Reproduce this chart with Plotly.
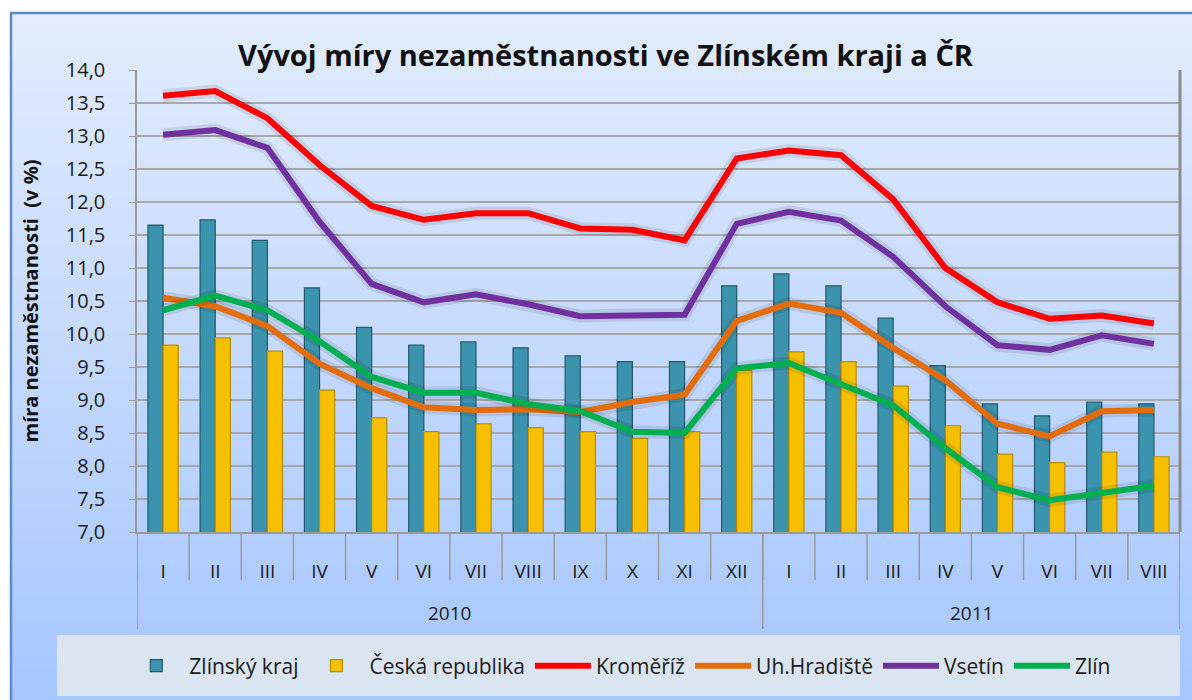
import plotly.graph_objects as go

years = ["2010", "2011"]
months = ["I", "II", "III", "IV", "V", "VI", "VII", "VIII", "IX", "X", "XI", "XII",
          "I", "II", "III", "IV", "V", "VI", "VII", "VIII"]
year_lengths = [12, 8]

zlinsky_kraj = [11.65, 11.73, 11.42, 10.70, 10.10, 9.83, 9.88, 9.79, 9.67, 9.58, 9.58, 10.73,
                10.91, 10.73, 10.24, 9.52, 8.94, 8.76, 8.97, 8.94]
ceska_republika = [9.83, 9.94, 9.74, 9.15, 8.73, 8.52, 8.64, 8.58, 8.52, 8.42, 8.52, 9.45,
                   9.73, 9.58, 9.21, 8.61, 8.18, 8.05, 8.21, 8.14]
kromeriz = [13.61, 13.68, 13.27, 12.56, 11.94, 11.73, 11.83, 11.83, 11.60, 11.58, 11.42, 12.66,
            12.78, 12.71, 12.04, 11.00, 10.48, 10.23, 10.28, 10.16]
uh_hradiste = [10.55, 10.42, 10.12, 9.55, 9.18, 8.89, 8.85, 8.86, 8.82, 8.97, 9.08, 10.20,
               10.46, 10.32, 9.79, 9.30, 8.64, 8.45, 8.83, 8.85]
vsetin = [13.02, 13.09, 12.82, 11.70, 10.76, 10.48, 10.60, 10.45, 10.27, 10.29, 10.29, 11.67,
          11.85, 11.72, 11.17, 10.42, 9.83, 9.76, 9.98, 9.85]
zlin = [10.36, 10.58, 10.36, 9.89, 9.35, 9.11, 9.11, 8.94, 8.83, 8.52, 8.50, 9.48,
        9.56, 9.24, 8.92, 8.27, 7.68, 7.48, 7.60, 7.70]

xpos = list(range(len(months)))

W, H = 1192, 700
L, R, T, B = 137, 1180, 70, 532
FONT = "Open Sans, Lato, sans-serif"


def px_x(p):
    return (p - L) / (R - L)


def px_y(p):
    return (B - p) / (B - T)


fig = go.Figure()

fig.add_trace(go.Bar(x=xpos, y=zlinsky_kraj, name="Zlínský kraj",
                     marker=dict(color="#3b93ad", line=dict(color="#24596b", width=1.2))))
fig.add_trace(go.Bar(x=xpos, y=ceska_republika, name="Česká republika",
                     marker=dict(color="#f6c000", line=dict(color="#b88d00", width=1.2))))

lines = [("Kroměříž", kromeriz, "#ff0000"),
         ("Uh.Hradiště", uh_hradiste, "#e46c0a"),
         ("Vsetín", vsetin, "#7030a0"),
         ("Zlín", zlin, "#00b050")]
for name, vals, col in lines:
    fig.add_trace(go.Scatter(x=xpos, y=vals, mode="lines", showlegend=False, hoverinfo="skip",
                             line=dict(color="rgba(0,0,0,0.09)", width=13)))
    fig.add_trace(go.Scatter(x=xpos, y=vals, mode="lines", name=name,
                             line=dict(color=col, width=6)))

shapes = []
# background gradient frame
n = 60
top_px, bot_px = 13, 700
c0 = (226, 236, 253)
c1 = (166, 198, 254)
for i in range(n):
    y0p = top_px + (bot_px - top_px) * i / n
    y1p = top_px + (bot_px - top_px) * (i + 1) / n + 1
    t = i / (n - 1)
    c = tuple(int(round(c0[k] + (c1[k] - c0[k]) * t)) for k in range(3))
    shapes.append(dict(type="rect", xref="paper", yref="paper", layer="below",
                       x0=px_x(10), x1=px_x(1192), y0=px_y(y1p), y1=px_y(y0p),
                       line=dict(width=0), fillcolor="rgb(%d,%d,%d)" % c))
shapes.append(dict(type="line", xref="paper", yref="paper", layer="below",
                   x0=px_x(10), x1=px_x(1192), y0=px_y(13), y1=px_y(13),
                   line=dict(color="#5b8ad0", width=2.5)))
shapes.append(dict(type="line", xref="paper", yref="paper", layer="below",
                   x0=px_x(11), x1=px_x(11), y0=px_y(13), y1=px_y(700),
                   line=dict(color="#5b8ad0", width=2.5)))
# legend box
shapes.append(dict(type="rect", xref="paper", yref="paper", layer="below",
                   x0=px_x(57), x1=px_x(1180), y0=px_y(696), y1=px_y(635),
                   line=dict(width=0), fillcolor="#dbe5f1"))
# 3D wall edge on right
shapes.append(dict(type="line", xref="paper", yref="paper", layer="above",
                   x0=1, x1=1, y0=0, y1=1, line=dict(color="#8c8c8c", width=3)))
# month separators below the axis
for i in range(len(months) + 1):
    shapes.append(dict(type="line", xref="x", yref="paper", layer="below",
                       x0=i - 0.5, x1=i - 0.5, y0=0, y1=px_y(580),
                       line=dict(color="#9a9a9a", width=1.5)))
# year separators
annotations = []
bounds = [0]
for yl in year_lengths:
    bounds.append(bounds[-1] + yl)
for b in bounds:
    shapes.append(dict(type="line", xref="x", yref="paper", layer="below",
                       x0=b - 0.5, x1=b - 0.5, y0=0, y1=px_y(629),
                       line=dict(color="#9a9a9a", width=1.5)))
for k, yr in enumerate(years):
    annotations.append(dict(text=yr, xref="x", yref="paper",
                            x=(bounds[k] + bounds[k + 1] - 1) / 2, y=px_y(613),
                            showarrow=False, xanchor="center", yanchor="middle",
                            font=dict(family=FONT, size=19, color="#1a1a1a")))

fig.update_layout(
    width=W, height=H,
    margin=dict(l=L, r=W - R, t=T, b=H - B),
    paper_bgcolor="white",
    plot_bgcolor="white",
    separators=", ",
    font=dict(family=FONT, color="#1a1a1a", size=18),
    title=dict(text="<b>Vývoj míry nezaměstnanosti ve Zlínském kraji a ČR</b>",
               x=0.508, xanchor="center", y=1 - 56 / H, yanchor="middle",
               font=dict(size=29, color="#111111")),
    barmode="group", bargap=0.42, bargroupgap=0.0,
    shapes=shapes,
    annotations=annotations,
    legend=dict(orientation="h", xref="container", yref="container",
                x=0.52, xanchor="center", y=1 - 666 / H, yanchor="middle",
                bgcolor="rgba(0,0,0,0)", font=dict(size=21, color="#1a1a1a"),
                itemwidth=56, traceorder="normal"),
    showlegend=True,
)

fig.update_yaxes(range=[7, 14], dtick=0.5, tickformat=".1f",
                 showgrid=True, gridcolor="#a8a8a8", gridwidth=1.5,
                 showline=True, linecolor="#9a9a9a", linewidth=1.5,
                 ticks="outside", ticklen=6, tickcolor="#9a9a9a",
                 ticklabelstandoff=20,
                 tickfont=dict(size=20, color="#1a1a1a"),
                 title=dict(text="<b>míra nezaměstnanosti  (v %)</b>",
                            font=dict(size=20, color="#111111"), standoff=22),
                 zeroline=False)
fig.update_xaxes(range=[-0.5, len(months) - 0.5], showgrid=False,
                 tickmode="array", tickvals=xpos, ticktext=months,
                 showline=True, linecolor="#9a9a9a", linewidth=1.5,
                 ticks="", ticklabelstandoff=21,
                 tickfont=dict(size=19, color="#1a1a1a"), zeroline=False)

fig.write_html("out.html", config={"displayModeBar": False},
               post_script="document.body.style.margin='0';")
